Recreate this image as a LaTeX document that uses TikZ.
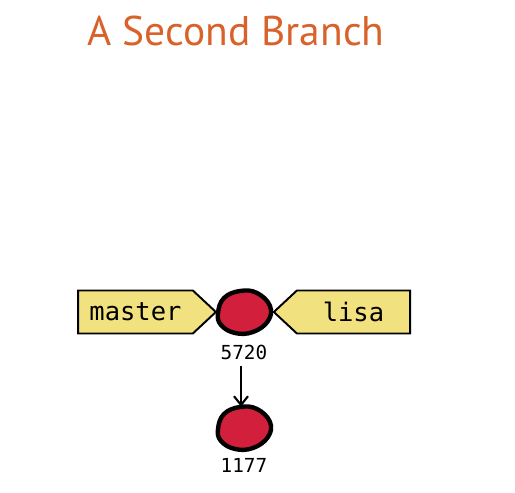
\documentclass[tikz,border=0pt]{standalone}
\usepackage{fontspec}
\setmainfont{PT Sans}
\newfontfamily\labelfont{DejaVu Sans Mono}
\usepackage{tikz}
\usetikzlibrary{arrows,arrows.meta,shapes,shapes.symbols}
\usetikzlibrary{calc}
\definecolor{titleorange}{HTML}{D9622B}
\definecolor{flagyellow}{HTML}{F2E27F}
\definecolor{commitred}{HTML}{D21F3C}
\newcommand{\commitblob}[1]{%
	\draw[line width=2.5pt,fill=commitred] plot[smooth cycle,tension=.7] coordinates {
	($(#1)+(-26,1)$) ($(#1)+(-20,-14)$) ($(#1)+(-4,-21)$) ($(#1)+(13,-19)$)
	($(#1)+(26,-6)$) ($(#1)+(24,9)$) ($(#1)+(9,20)$) ($(#1)+(-9,21)$) ($(#1)+(-23,13)$)};}

\begin{document}
\begin{tikzpicture}[x=0.02cm,y=-0.02cm,
	flag/.style={signal,draw=black,line width=1.1pt,fill=flagyellow,minimum height=0.86cm,
		signal pointer angle=86,align=center,font=\labelfont\fontsize{14.5}{16}\selectfont},
	commit/.style={inner sep=0pt,minimum width=1.04cm,minimum height=0.84cm},
	sha/.style={font=\labelfont\fontsize{11}{13}\selectfont}]

	\useasboundingbox (0,0) rectangle (515,493);
	\node[titleorange,font=\fontsize{23.6}{28}\selectfont] (title) at (236,31) {A Second Branch};

	\node[commit] (c5720) at (244,312) {};
	\node[commit] (c1177) at (244,428) {};
	\commitblob{c5720}
	\commitblob{c1177}
	\node[sha] (l5720) at (244,352) {5720};
	\node[sha] (l1177) at (244,465) {1177};

	\node[flag,signal to=east,text width=2.06cm] (master) at (135.5,312) {master};
	\node[flag,signal to=west,text width=2.03cm] (lisa) at (353.5,312) {lisa};

	\draw[line width=1.2pt,-{Straight Barb[length=5pt,width=8pt]}] (l5720.south -| 241,0) -- (c1177.north -| 241,0);

\end{tikzpicture}
\end{document}
